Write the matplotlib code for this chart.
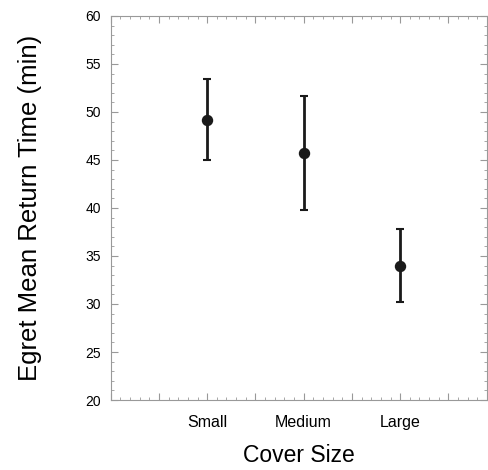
import matplotlib
matplotlib.use('Agg')
import matplotlib.pyplot as plt
from matplotlib.ticker import MultipleLocator

plt.rcParams['font.family'] = ['Liberation Sans', 'DejaVu Sans']

# cover size groups and egret mean return times (min)
categories = ['Small', 'Medium', 'Large']
positions = [1, 2, 3]
means = [49.2, 45.7, 34.0]
errors = [4.25, 5.95, 3.8]

fig = plt.figure(figsize=(4.89, 4.70), dpi=100)
ax = fig.add_axes([110.7 / 489, 1 - 400 / 470, (487 - 110.7) / 489, (400 - 16) / 470])

ax.errorbar(positions, means, yerr=errors, fmt='o', color='#1a1a1a',
            markersize=7.2, elinewidth=2, capsize=3, capthick=1.5)

ax.set_xlim(0, 3.9)
ax.set_ylim(20, 60)
ax.xaxis.set_minor_locator(MultipleLocator(0.1))
ax.yaxis.set_major_locator(MultipleLocator(5))
ax.yaxis.set_minor_locator(MultipleLocator(1))

# labels only at the category positions
ax.set_xticks([0, 0.5, 1, 1.5, 2, 2.5, 3, 3.5])
ax.set_xticklabels(['', '', categories[0], '', categories[1], '', categories[2], ''])

for s in ax.spines.values():
    s.set_color('#999999')
    s.set_linewidth(0.8)

ax.tick_params(which='both', direction='in', top=True, right=True, color='#999999')
ax.tick_params(which='major', length=5, width=0.8)
ax.tick_params(which='minor', length=2.5, width=0.6)
ax.tick_params(axis='y', labelsize=10, pad=7)
ax.tick_params(axis='x', labelsize=11.5, pad=11)

ax.set_ylabel('Egret Mean Return Time (min)', fontsize=18.5, labelpad=31)
ax.set_xlabel('Cover Size', fontsize=16.5, labelpad=10)

fig.savefig('out.png', dpi=100)
